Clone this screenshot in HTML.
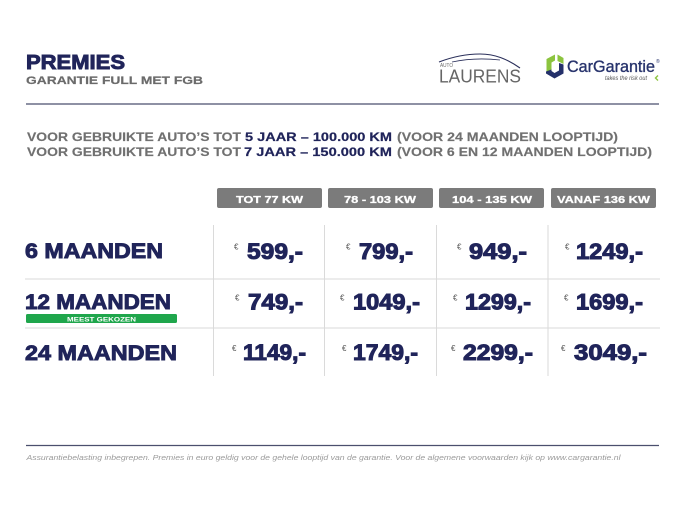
<!DOCTYPE html>
<html>
<head>
<meta charset="utf-8">
<style>
  html,body{margin:0;padding:0;background:#fff;}
  svg{display:block;}
  text{font-family:"Liberation Sans",sans-serif;}
</style>
</head>
<body>
<svg width="685" height="514" viewBox="0 0 685 514" xmlns="http://www.w3.org/2000/svg">
  <rect x="0" y="0" width="685" height="514" fill="#ffffff"/>

  <!-- Title -->
  <text x="26" y="69" font-size="20" font-weight="bold" fill="#20245a" stroke="#20245a" stroke-width="0.9" textLength="99" lengthAdjust="spacingAndGlyphs">PREMIES</text>
  <text x="26" y="84" font-size="11" font-weight="bold" fill="#6b6b6b" stroke="#6b6b6b" stroke-width="0.2" textLength="177" lengthAdjust="spacingAndGlyphs">GARANTIE FULL MET FGB</text>

  <!-- Auto Laurens logo -->
  <path d="M439,62 C452,57 465,54 480,54 C495,54 507,59 520,68" fill="none" stroke="#2a2f5a" stroke-width="1.1"/>
  <path d="M452,62 C466,59 482,58 500,60" fill="none" stroke="#2a2f5a" stroke-width="0.8"/>
  <text x="440" y="67" font-size="5.5" fill="#6a6a6a" textLength="13" lengthAdjust="spacingAndGlyphs">AUTO</text>
  <text x="439" y="82.5" font-size="18" fill="#666666" textLength="82" lengthAdjust="spacingAndGlyphs">LAURENS</text>

  <!-- CarGarantie logo -->
  <path d="M546.5,59 L555,54.5 L555,60.5 L551.5,62.5 L551.5,70 L546.5,72.5 Z" fill="#8cc43f"/>
  <path d="M557.5,54.5 L563.5,58 L563.5,64 L557.5,61 Z" fill="#8cc43f"/>
  <path d="M546,71.5 L551.5,69.5 L551.5,71 L554.5,73 L559,70.5 L559,63 L563.5,64.5 L563.5,73.5 L554.5,78.5 L546,73.5 Z" fill="#24306a"/>
  <text x="567" y="72" font-size="16.5" fill="#27336c" stroke="#27336c" stroke-width="0.35" textLength="88" lengthAdjust="spacingAndGlyphs">CarGarantie</text>
  <text x="656" y="63" font-size="5" fill="#27336c">®</text>
  <text x="605" y="80" font-size="6" font-style="italic" fill="#555" textLength="42" lengthAdjust="spacingAndGlyphs">takes the risk out</text>
  <path d="M658,75.5 L655.5,78 L658,80.5" fill="none" stroke="#8cc43f" stroke-width="1.4"/>

  <!-- Top rule -->
  <line x1="26" y1="104" x2="659" y2="104" stroke="#4b4f6e" stroke-width="1.3"/>

  <!-- Intro lines -->
  <g font-size="12" font-weight="bold">
  <text x="27" y="141" fill="#707070" stroke="#707070" stroke-width="0.15" textLength="214" lengthAdjust="spacingAndGlyphs">VOOR GEBRUIKTE AUTO’S TOT</text>
  <text x="245" y="141" fill="#20245a" stroke="#20245a" stroke-width="0.2" textLength="147" lengthAdjust="spacingAndGlyphs">5 JAAR – 100.000 KM</text>
  <text x="397" y="141" fill="#707070" stroke="#707070" stroke-width="0.15" textLength="221" lengthAdjust="spacingAndGlyphs">(VOOR 24 MAANDEN LOOPTIJD)</text>

  <text x="27" y="156" fill="#707070" stroke="#707070" stroke-width="0.15" textLength="214" lengthAdjust="spacingAndGlyphs">VOOR GEBRUIKTE AUTO’S TOT</text>
  <text x="244" y="156" fill="#20245a" stroke="#20245a" stroke-width="0.2" textLength="148" lengthAdjust="spacingAndGlyphs">7 JAAR – 150.000 KM</text>
  <text x="397" y="156" fill="#707070" stroke="#707070" stroke-width="0.15" textLength="255" lengthAdjust="spacingAndGlyphs">(VOOR 6 EN 12 MAANDEN LOOPTIJD)</text>
  </g>

  <!-- Header boxes -->
  <rect x="217" y="188" width="105" height="20" rx="2" fill="#7b7b7b"/>
  <rect x="328" y="188" width="105" height="20" rx="2" fill="#7b7b7b"/>
  <rect x="439" y="188" width="105" height="20" rx="2" fill="#7b7b7b"/>
  <rect x="551" y="188" width="105" height="20" rx="2" fill="#7b7b7b"/>
  <g font-size="10.5" font-weight="bold" fill="#fff" stroke="#fff" stroke-width="0.3">
  <text x="236" y="203" textLength="67" lengthAdjust="spacingAndGlyphs">TOT 77 KW</text>
  <text x="344" y="203" textLength="72" lengthAdjust="spacingAndGlyphs">78 - 103 KW</text>
  <text x="452" y="203" textLength="80" lengthAdjust="spacingAndGlyphs">104 - 135 KW</text>
  <text x="557" y="203" textLength="93" lengthAdjust="spacingAndGlyphs">VANAF 136 KW</text>
  </g>

  <!-- Grid lines -->
  <line x1="25" y1="279" x2="660" y2="279" stroke="#dadada" stroke-width="1"/>
  <line x1="25" y1="328" x2="660" y2="328" stroke="#dadada" stroke-width="1"/>
  <line x1="213.5" y1="225" x2="213.5" y2="376" stroke="#dadada" stroke-width="1"/>
  <line x1="324.5" y1="225" x2="324.5" y2="376" stroke="#dadada" stroke-width="1"/>
  <line x1="436.5" y1="225" x2="436.5" y2="376" stroke="#dadada" stroke-width="1"/>
  <line x1="548" y1="225" x2="548" y2="376" stroke="#dadada" stroke-width="1"/>

  <!-- Row labels -->
  <g font-size="21" font-weight="bold" fill="#20245a" stroke="#20245a" stroke-width="0.9">
  <text x="25" y="258" textLength="138" lengthAdjust="spacingAndGlyphs">6 MAANDEN</text>
  <text x="25" y="309" textLength="146" lengthAdjust="spacingAndGlyphs">12 MAANDEN</text>
  <text x="25" y="360" textLength="152" lengthAdjust="spacingAndGlyphs">24 MAANDEN</text>
  </g>

  <rect x="26" y="314" width="151" height="9" rx="1.5" fill="#1fa64c"/>
  <text x="67" y="321.3" font-size="6.5" font-weight="bold" fill="#fff" textLength="69" lengthAdjust="spacingAndGlyphs">MEEST GEKOZEN</text>

  <!-- Euro signs -->
  <g font-size="8" fill="#555">
    <text x="234" y="249.5">€</text>
    <text x="346" y="249.5">€</text>
    <text x="457" y="249.5">€</text>
    <text x="565" y="249.5">€</text>
    <text x="235" y="300.5">€</text>
    <text x="340" y="300.5">€</text>
    <text x="453" y="300.5">€</text>
    <text x="564" y="300.5">€</text>
    <text x="232" y="351">€</text>
    <text x="342" y="351">€</text>
    <text x="451" y="351">€</text>
    <text x="561" y="351">€</text>
  </g>
  <!-- Prices -->
  <g font-size="22" font-weight="bold" fill="#20245a" stroke="#20245a" stroke-width="1">
    <text x="247" y="259" textLength="56" lengthAdjust="spacingAndGlyphs">599,-</text>
    <text x="359" y="259" textLength="54" lengthAdjust="spacingAndGlyphs">799,-</text>
    <text x="469" y="259" textLength="58" lengthAdjust="spacingAndGlyphs">949,-</text>
    <text x="576" y="259" textLength="67" lengthAdjust="spacingAndGlyphs">1249,-</text>

    <text x="248" y="309.5" textLength="55" lengthAdjust="spacingAndGlyphs">749,-</text>
    <text x="353" y="309.5" textLength="67" lengthAdjust="spacingAndGlyphs">1049,-</text>
    <text x="465" y="309.5" textLength="66" lengthAdjust="spacingAndGlyphs">1299,-</text>
    <text x="576" y="309.5" textLength="67" lengthAdjust="spacingAndGlyphs">1699,-</text>

    <text x="243" y="360" textLength="63" lengthAdjust="spacingAndGlyphs">1149,-</text>
    <text x="353" y="360" textLength="65" lengthAdjust="spacingAndGlyphs">1749,-</text>
    <text x="463" y="360" textLength="70" lengthAdjust="spacingAndGlyphs">2299,-</text>
    <text x="574" y="360" textLength="73" lengthAdjust="spacingAndGlyphs">3049,-</text>
  </g>

  <!-- Footer -->
  <line x1="26" y1="445.5" x2="659" y2="445.5" stroke="#4b4f6e" stroke-width="1.2"/>
  <text x="26.5" y="460" font-size="7.5" font-style="italic" fill="#9a9a9a" textLength="594" lengthAdjust="spacingAndGlyphs">Assurantiebelasting inbegrepen. Premies in euro geldig voor de gehele looptijd van de garantie. Voor de algemene voorwaarden kijk op www.cargarantie.nl</text>
</svg>
</body>
</html>
